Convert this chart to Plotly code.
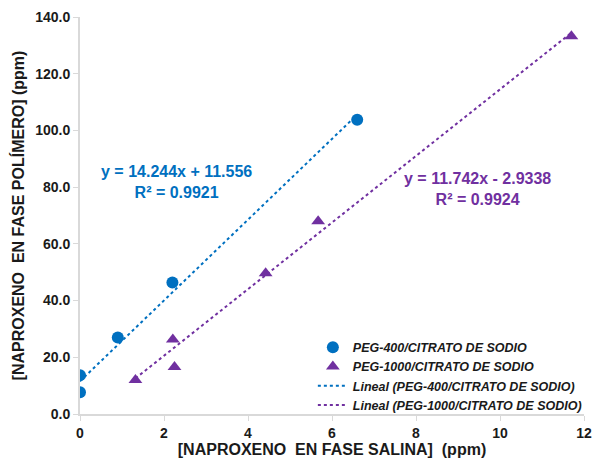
import plotly.graph_objects as go

# Data
peg400_x = [0.0, 0.0, 0.9, 2.2, 6.6]
peg400_y = [13.7, 7.7, 27.0, 46.4, 103.8]
peg1000_x = [1.32, 2.21, 2.25, 4.42, 5.67, 11.7]
peg1000_y = [12.0, 26.3, 16.6, 49.6, 68.0, 133.2]

fit400_slope, fit400_icpt = 14.244, 11.556
fit1000_slope, fit1000_icpt = 11.742, -2.9338
fit400_xrange = [0.0, 6.6]
fit1000_xrange = [1.32, 11.7]

x_ticks = [0, 2, 4, 6, 8, 10, 12]
y_ticks = [0, 20, 40, 60, 80, 100, 120, 140]

BLUE = "#0070C0"
PURPLE = "#7030A0"
FONT = "Liberation Sans, Arial, sans-serif"

fig = go.Figure()
fig.add_trace(go.Scatter(x=peg400_x, y=peg400_y, mode="markers", name="PEG-400/CITRATO DE SODIO",
                         marker=dict(symbol="circle", size=12, color=BLUE)))
fig.add_trace(go.Scatter(x=peg1000_x, y=peg1000_y, mode="markers", name="PEG-1000/CITRATO DE SODIO",
                         marker=dict(symbol="triangle-up", size=12, color=PURPLE)))
fig.add_trace(go.Scatter(x=fit400_xrange, y=[fit400_slope * v + fit400_icpt for v in fit400_xrange],
                         mode="lines", name="Lineal (PEG-400/CITRATO DE SODIO)",
                         line=dict(color=BLUE, width=2, dash="dot")))
fig.add_trace(go.Scatter(x=fit1000_xrange, y=[fit1000_slope * v + fit1000_icpt for v in fit1000_xrange],
                         mode="lines", name="Lineal (PEG-1000/CITRATO DE SODIO)",
                         line=dict(color=PURPLE, width=2, dash="dot")))

fig.add_annotation(x=2.3, y=81.8, text="<b>y = 14.244x + 11.556<br>R² = 0.9921</b>", showarrow=False,
                   font=dict(family=FONT, size=16, color=BLUE), align="center")
fig.add_annotation(x=9.47, y=79.2, text="<b>y = 11.742x - 2.9338<br>R² = 0.9924</b>", showarrow=False,
                   font=dict(family=FONT, size=16, color=PURPLE), align="center")

axis_common = dict(showgrid=False, zeroline=False, showline=True, linecolor="#d9d9d9", linewidth=2,
                   ticks="outside", tickcolor="#d9d9d9", ticklen=5, tickwidth=1, automargin=False,
                   ticklabeloverflow="allow",
                   tickfont=dict(family=FONT, size=14, color="#1a1a1a", weight="bold"))

fig.update_layout(
    width=592, height=460,
    margin=dict(l=80, r=8, t=17, b=46, autoexpand=False),
    paper_bgcolor="white", plot_bgcolor="white",
    font=dict(family=FONT),
    xaxis=dict(range=[0, 12], tickvals=x_ticks, **axis_common,
               title=dict(text="<b>[NAPROXENO  EN FASE SALINA]  (ppm)</b>", standoff=4,
                          font=dict(family=FONT, size=16, color="#1a1a1a"))),
    yaxis=dict(range=[0, 140], tickvals=y_ticks, tickformat=".1f", **axis_common,
               title=dict(text="<b>[NAPROXENO  EN FASE POLÍMERO] (ppm)</b>", standoff=7,
                          font=dict(family=FONT, size=16, color="#1a1a1a"))),
    legend=dict(x=0.462, y=0.205, xanchor="left", yanchor="top", bgcolor="rgba(0,0,0,0)",
                font=dict(family=FONT, size=12.5, color="#1a1a1a", style="italic", weight="bold"),
                itemwidth=30, tracegroupgap=0, traceorder="normal"),
    showlegend=True,
)

fig.write_html("out.html")
